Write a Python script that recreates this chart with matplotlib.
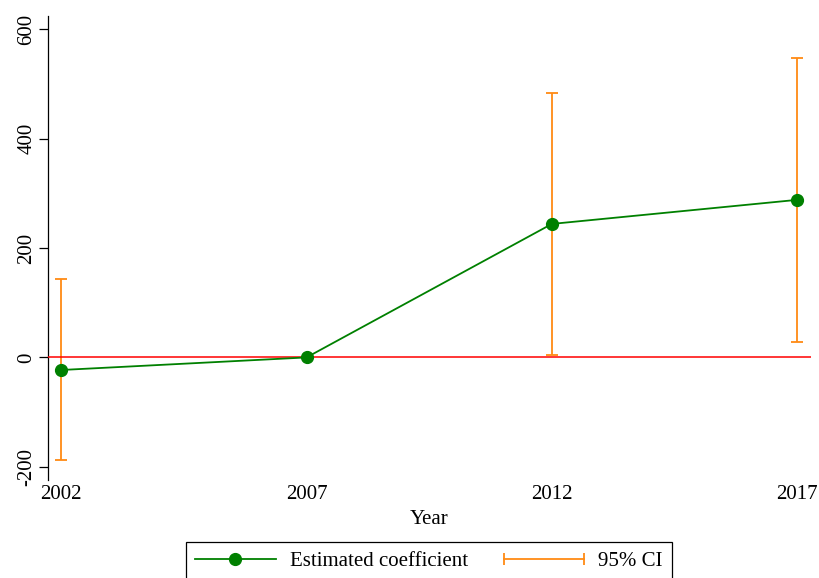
import numpy as np
import matplotlib.pyplot as plt
from matplotlib.lines import Line2D
from matplotlib.legend_handler import HandlerLine2D


OUTPUT_NAME = "out.png"

years = [2002, 2007, 2012, 2017]
coef = [-23, 0, 244, 288]
ci_low = [-188, np.nan, 4, 29]
ci_high = [143, np.nan, 484, 547]

y_ticks = [-200, 0, 200, 400, 600]
y_tick_labels = ["-200", "0", "200", "400", "600"]

GREEN = "#008000"
ORANGE = "#ff8a14"
RED = "#ff0000"


def main():
    plt.rcParams["font.family"] = ["Liberation Serif", "DejaVu Serif"]
    plt.rcParams["font.size"] = 15

    fig = plt.figure(figsize=(8.2, 5.78), dpi=100)
    ax = fig.add_axes([0.0585, 0.1696, 0.9305, 0.8027])

    x = np.array(years, dtype=float)
    lo = np.array(ci_low, dtype=float)
    hi = np.array(ci_high, dtype=float)
    mid = (lo + hi) / 2

    ax.errorbar(x, mid, yerr=[mid - lo, hi - mid], fmt="none", ecolor=ORANGE,
                elinewidth=1.3, capsize=4, capthick=1.3, zorder=2)
    ax.axhline(0, color=RED, lw=1.1, zorder=3)
    ax.plot(x, coef, color=GREEN, lw=1.3, marker="o", markersize=8.5, zorder=4)

    ax.set_xlim(2001.73, 2017.28)
    ax.set_ylim(-224, 624)
    ax.set_xticks(years)
    ax.set_xticklabels([str(y) for y in years])
    ax.set_yticks(y_ticks)
    ax.set_yticklabels(y_tick_labels, rotation=90, va="center")

    for side in ["top", "right", "bottom"]:
        ax.spines[side].set_visible(False)
    ax.spines["left"].set_linewidth(0.9)
    ax.tick_params(axis="y", length=6.5, width=0.9, pad=2)
    ax.tick_params(axis="x", length=0, pad=3.5)
    ax.set_xlabel("Year", labelpad=4.5)

    h_coef = Line2D([], [], color=GREEN, lw=1.3, marker="o", markersize=8.5)
    h_ci = Line2D([], [], color=ORANGE, lw=1.3, marker="|", markersize=8, markeredgewidth=1.3)
    fig.legend([h_coef, h_ci], ["Estimated coefficient", "95% CI"],
               loc="upper center", bbox_to_anchor=(0.523, 0.0623), ncol=2,
               numpoints=1, handler_map={h_ci: HandlerLine2D(numpoints=2, marker_pad=0)},
               frameon=True, fancybox=False, edgecolor="black", framealpha=1,
               handlelength=3.85, handletextpad=0.67, columnspacing=1.73,
               borderpad=0.45, borderaxespad=0)
    fig.legends[0].get_frame().set_linewidth(0.9)

    fig.savefig(OUTPUT_NAME, dpi=100)
    plt.close(fig)


if __name__ == "__main__":
    main()
